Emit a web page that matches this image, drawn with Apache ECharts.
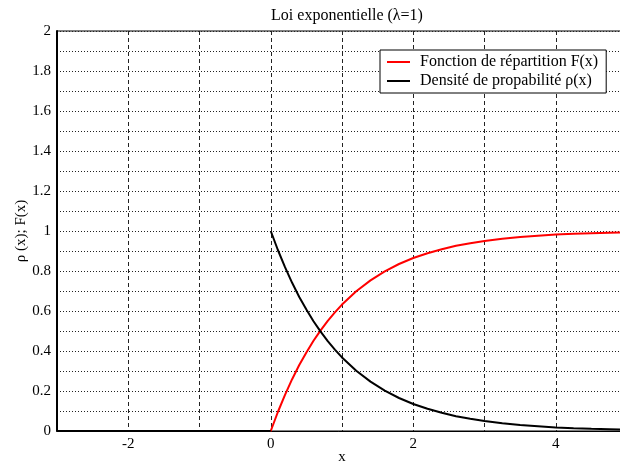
<!DOCTYPE html>
<html>
<head>
<meta charset="utf-8">
<script src="https://cdn.jsdelivr.net/npm/echarts@6/dist/echarts.min.js"></script>
<style>
  html, body { margin: 0; padding: 0; background: #fff; }
  #chart { width: 620px; height: 464px; }
</style>
</head>
<body>
<div id="chart"></div>
<script>
// Exponential law with lambda = 1: cumulative distribution and density.
const xNeg = [-3, 0];
const yNeg = [0, 0];

const xPos = [0, 0.1, 0.2, 0.3, 0.4, 0.5, 0.6, 0.7, 0.8, 0.9,
              1, 1.2, 1.4, 1.6, 1.8, 2, 2.2, 2.4, 2.6, 2.8,
              3, 3.25, 3.5, 3.75, 4, 4.25, 4.5, 4.75, 5];
const cdfValues = [0, 0.095, 0.181, 0.259, 0.330, 0.393, 0.451, 0.503, 0.551, 0.593,
                   0.632, 0.699, 0.753, 0.798, 0.835, 0.865, 0.889, 0.909, 0.926, 0.939,
                   0.950, 0.961, 0.970, 0.976, 0.982, 0.986, 0.989, 0.991, 0.993];
const densityValues = [1, 0.905, 0.819, 0.741, 0.670, 0.607, 0.549, 0.497, 0.449, 0.407,
                       0.368, 0.301, 0.247, 0.202, 0.165, 0.135, 0.111, 0.091, 0.074, 0.061,
                       0.050, 0.039, 0.030, 0.024, 0.018, 0.014, 0.011, 0.009, 0.007];

const xTickLabels = ['-2', '0', '2', '4'];
const yTickLabels = ['0', '0.2', '0.4', '0.6', '0.8', '1', '1.2', '1.4', '1.6', '1.8', '2'];

const serif = 'Liberation Serif';

function pairs(xs, ys) { return xs.map((x, i) => [x, ys[i]]); }

const cdfData = pairs(xNeg, yNeg).concat(pairs(xPos, cdfValues));
const densityData = pairs(xNeg, yNeg).concat([[0, '-']]).concat(pairs(xPos, densityValues));

const chart = echarts.init(document.getElementById('chart'), null, { renderer: 'canvas' });

chart.setOption({
  animation: false,
  backgroundColor: '#fff',
  title: {
    text: 'Loi exponentielle (\u03bb=1)',
    left: 342, top: 3, textAlign: 'center',
    textStyle: { fontFamily: serif, fontSize: 16, fontWeight: 'normal', color: '#000' }
  },
  legend: {
    orient: 'vertical',
    left: 380, top: 50,
    backgroundColor: '#fff',
    borderColor: '#000', borderWidth: 1, borderRadius: 0,
    padding: [4, 8, 4, 7],
    itemWidth: 23, itemHeight: 2, itemGap: 3,
    icon: 'rect',
    textStyle: { fontFamily: serif, fontSize: 16, color: '#000', padding: [0, 0, 0, 5] },
    data: ['Fonction de répartition F(x)', 'Densité de propabilité \u03c1(x)']
  },
  grid: {
    left: 57, right: -7, top: 31, bottom: 33,
    outerBoundsMode: 'none', containLabel: false,
    show: true, borderColor: '#000', borderWidth: 1, backgroundColor: 'transparent'
  },
  xAxis: {
    type: 'value', min: -3, max: 5, interval: 1,
    name: 'x', nameLocation: 'middle', nameGap: 19, nameMoveOverlap: false,
    nameTextStyle: { fontFamily: serif, fontSize: 15, color: '#000' },
    axisLine: { show: true, onZero: false, lineStyle: { color: '#000', width: 1 } },
    axisTick: { show: false },
    axisLabel: {
      fontFamily: serif, fontSize: 15, color: '#000', margin: 6,
      formatter: v => { const s = String(v); return xTickLabels.includes(s) ? s : ''; }
    },
    splitLine: { show: true, lineStyle: { color: '#222', width: 1, type: [4, 3] } }
  },
  yAxis: {
    type: 'value', min: 0, max: 2, interval: 0.1,
    name: '\u03c1 (x); F(x)', nameLocation: 'middle', nameGap: 28, nameMoveOverlap: false,
    nameTextStyle: { fontFamily: serif, fontSize: 15, color: '#000' },
    axisLine: { show: true, onZero: false, lineStyle: { color: '#000', width: 2 } },
    axisTick: { show: false },
    axisLabel: {
      fontFamily: serif, fontSize: 15, color: '#000', margin: 6,
      formatter: v => { const s = String(Math.round(v * 10) / 10); return yTickLabels.includes(s) ? s : ''; }
    },
    splitLine: { show: true, lineStyle: { color: '#222', width: 1, type: [1, 2] } }
  },
  series: [
    {
      name: 'Fonction de répartition F(x)',
      type: 'line', data: cdfData, showSymbol: false, smooth: false,
      color: '#ff0000',
      lineStyle: { color: '#ff0000', width: 2 }
    },
    {
      name: 'Densité de propabilité \u03c1(x)',
      type: 'line', data: densityData, showSymbol: false, smooth: false,
      connectNulls: false,
      color: '#000',
      lineStyle: { color: '#000', width: 2 }
    }
  ]
});
</script>
</body>
</html>
